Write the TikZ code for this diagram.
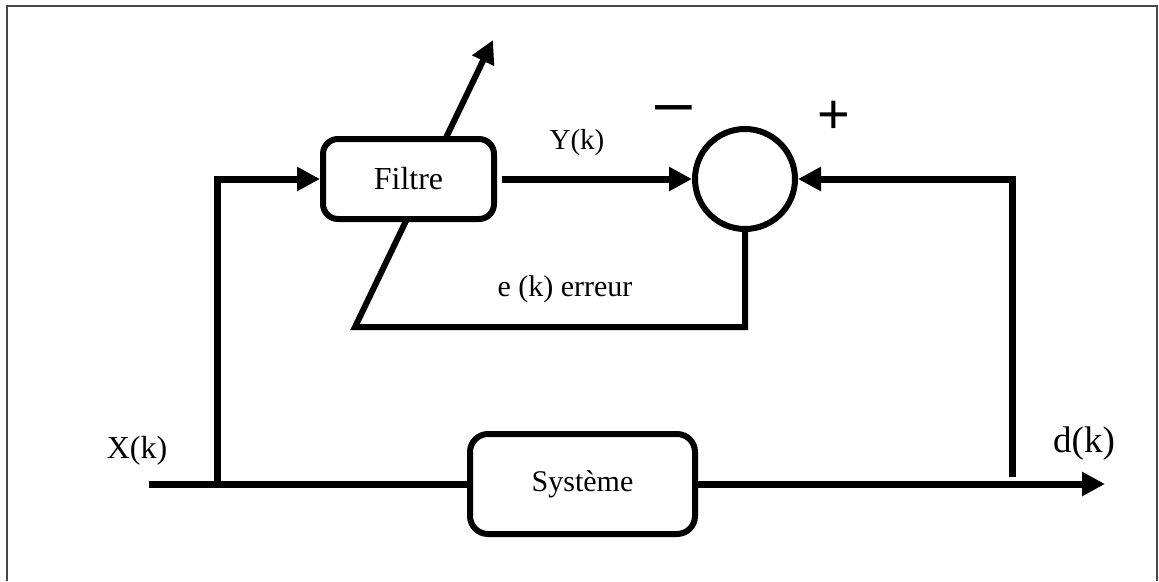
\documentclass[tikz,border=0pt]{standalone}
\usepackage{fontspec}
\setmainfont{Liberation Serif}
\newfontfamily\signfont{Liberation Sans}
\usetikzlibrary{arrows.meta,backgrounds}
\begin{document}
\begin{tikzpicture}[x=1pt,y=-1pt,
  conn/.style={line width=7pt},
  arr/.style={conn,-{Triangle[length=23pt,width=23pt]}},
  block/.style={draw,line width=6pt,fill=white,rounded corners=15pt,inner sep=0pt},
  lbl/.style={inner sep=0pt,font=\fontsize{29}{34}\selectfont}]
\useasboundingbox (0,0) rectangle (1159,581);
\draw[line width=2.5pt,color=black!72] (7,581) -- (7,6) -- (1157,6) -- (1157,581);

\node[block,minimum width=171pt,minimum height=80pt,font=\fontsize{32}{38}\selectfont] (filtre) at (408.5,179) {Filtre};
\node[block,minimum width=225pt,minimum height=100pt,rounded corners=18pt,font=\fontsize{30}{35}\selectfont] (sys) at (582.5,484) {Système};
\node[draw,circle,line width=6pt,fill=white,minimum size=100pt,inner sep=0pt] (sum) at (745,179) {};

\coordinate (in) at (149,484);
\coordinate (br) at (217,484);
\coordinate (out) at (1105,484);
\coordinate (tap) at (1012,477);
\coordinate (e1) at (355,327);
\coordinate (tip) at (493,40);

\draw[conn] (in) -- (sys.west);
\draw[arr] (br) |- (filtre.west);
\draw[arr] (sys.east) -- (out);
\draw[arr] (tap) |- (sum.east);
\draw[arr,shorten <=5pt] (filtre.east) -- (sum.west);
\begin{scope}[on background layer]
\fill[white] (0,0) rectangle (1159,581);
\draw[arr,line width=6pt] (sum.south) |- (e1) -- (tip);
\end{scope}

\node[lbl] (ylbl) at (577,143) {Y(k)};
\node[lbl,font=\fontsize{30}{35}\selectfont] (elbl) at (565,289) {e (k) erreur};
\node[lbl,font=\fontsize{32}{38}\selectfont] (xlbl) at (137,451) {X(k)};
\node[lbl,font=\fontsize{37}{44}\selectfont] (dlbl) at (1084,444) {d(k)};
\node[inner sep=0pt,font=\signfont\fontsize{66}{76}\selectfont] (minus) at (674,115) {–};
\node[inner sep=0pt,font=\signfont\fontsize{56}{66}\selectfont] (plus) at (834,117) {+};
\end{tikzpicture}
\end{document}
